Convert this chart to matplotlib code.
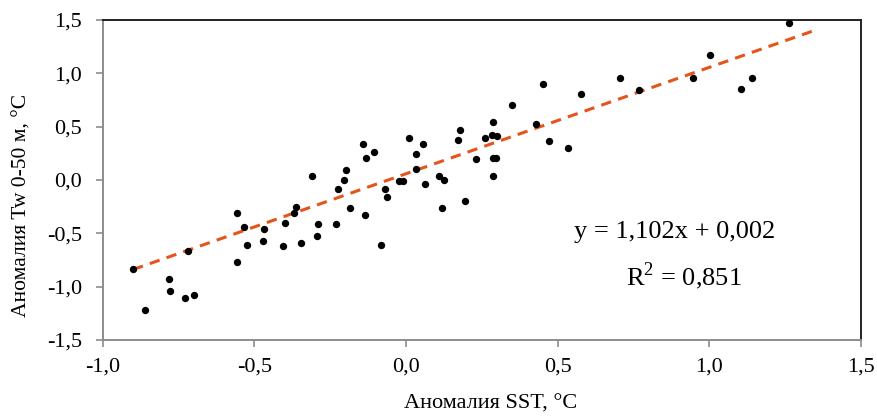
import matplotlib
matplotlib.use("Agg")
import matplotlib.pyplot as plt
from matplotlib.ticker import FuncFormatter

# =========================
# DATA
# =========================
sst = [-0.90, -0.86, -0.78, -0.777, -0.73, -0.70, -0.72, -0.556, -0.556, -0.535,
       -0.524, -0.47, -0.468, -0.405, -0.40, -0.37, -0.363, -0.347, -0.311, -0.294,
       -0.289, -0.23, -0.223, -0.185, -0.204, -0.199, -0.142, -0.131, -0.105, -0.136,
       -0.069, -0.064, -0.022, -0.011, 0.01, 0.032, 0.032, 0.057, 0.062, 0.109,
       0.125, 0.12, 0.172, 0.177, 0.194, 0.23, 0.26, 0.288, 0.285, 0.30,
       0.288, 0.296, 0.288, 0.35, 0.429, 0.45, 0.471, 0.534, 0.576, 0.707,
       0.769, 0.947, 1.001, 1.105, 1.142, 1.263, -0.082]
tw = [-0.84, -1.22, -0.93, -1.04, -1.11, -1.08, -0.67, -0.31, -0.77, -0.44,
      -0.61, -0.57, -0.46, -0.62, -0.40, -0.31, -0.25, -0.59, 0.035, -0.53,
      -0.41, -0.41, -0.084, -0.26, 0.003, 0.094, 0.335, 0.21, 0.26, -0.325,
      -0.084, -0.16, -0.01, -0.01, 0.39, 0.24, 0.10, 0.335, -0.04, 0.037,
      0.003, -0.26, 0.375, 0.47, -0.20, 0.197, 0.39, 0.54, 0.425, 0.415,
      0.21, 0.21, 0.035, 0.706, 0.528, 0.90, 0.363, 0.303, 0.81, 0.96,
      0.84, 0.96, 1.17, 0.856, 0.96, 1.47, -0.607]

# trend line as drawn (ends)
trend_x = [-0.90, 1.355]
trend_y = [-0.84, 1.41]

eq_text = "y = 1,102x + 0,002"
r2_text = "R$^2$ = 0,851"
xlabel = "Аномалия SST, °C"
ylabel = "Аномалия Tw 0-50 м, °C"

# =========================
# STYLE
# =========================
plt.rcParams["font.family"] = ["Liberation Serif", "DejaVu Serif"]
plt.rcParams["mathtext.fontset"] = "custom"
plt.rcParams["mathtext.rm"] = "Liberation Serif"

fig = plt.figure(figsize=(8.78, 4.16), dpi=100)
ax = fig.add_axes([0.117, 0.183, 0.8636, 0.769])

ax.scatter(sst, tw, s=28, color="black", zorder=3, linewidths=0)
ax.plot(trend_x, trend_y, color="#E5541B", lw=2.2, dashes=(3.4, 2.4), zorder=2)

ax.set_xlim(-1.0, 1.5)
ax.set_ylim(-1.5, 1.5)
ax.set_xticks([-1.0, -0.5, 0.0, 0.5, 1.0, 1.5])
ax.set_yticks([-1.5, -1.0, -0.5, 0.0, 0.5, 1.0, 1.5])

fmt = FuncFormatter(lambda v, p: f"{v:.1f}".replace(".", ","))
ax.xaxis.set_major_formatter(fmt)
ax.yaxis.set_major_formatter(fmt)

for side in ["left", "bottom"]:
    ax.spines[side].set_color("#8c8c8c")
    ax.spines[side].set_linewidth(1.4)
for side in ["top", "right"]:
    ax.spines[side].set_color("#222222")
    ax.spines[side].set_linewidth(1.4)

ax.tick_params(direction="out", length=5, width=1.2, color="#8c8c8c",
               labelsize=16)
ax.tick_params(axis="x", pad=8)
ax.tick_params(axis="y", pad=10)

ax.set_xlabel(xlabel, fontsize=16, labelpad=13)
ax.set_ylabel(ylabel, fontsize=15.5)
ax.xaxis.label.set_x(0.512)
ax.yaxis.set_label_coords(-0.107, 0.42)
ax.yaxis.label.set_va("center")

ax.text(0.884, -0.49, eq_text, fontsize=19, ha="center", va="center")
ax.text(0.917, -0.90, r2_text, fontsize=19, ha="center", va="center")

fig.savefig("out.png", dpi=100)
